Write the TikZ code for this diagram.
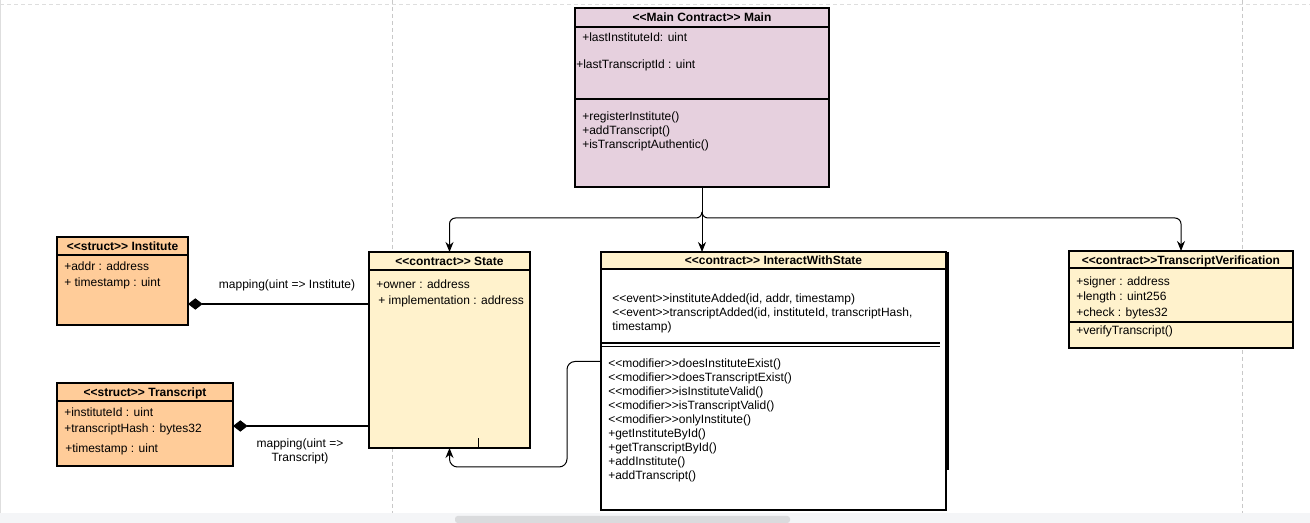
\documentclass[tikz,border=0pt]{standalone}
\usepackage{fontspec}
\setmainfont{Liberation Sans}
\usetikzlibrary{arrows.meta,calc}
\definecolor{mainfill}{HTML}{E6D0DE}
\definecolor{structfill}{HTML}{FFCC99}
\definecolor{contractfill}{HTML}{FFF2CC}
\definecolor{pageline}{HTML}{C8C8C8}
\definecolor{scrolltrack}{HTML}{F4F5F7}
\definecolor{scrollthumb}{HTML}{DADBDD}
\newcommand\upx{0.75pt}
\begin{document}
\begin{tikzpicture}[x=0.75pt,y=-0.75pt,
  font=\fontsize{9}{10.5}\selectfont,
  cls/.style={draw=black, line width=0.9pt, anchor=north west, inner sep=0pt, outer sep=0pt},
  sep/.style={line width=0.9pt},
  ttl/.style={anchor=base, inner sep=0pt, font=\fontsize{9}{10.5}\selectfont\bfseries},
  txt/.style={anchor=base west, inner sep=0pt},
  lbl/.style={inner sep=0pt, align=center},
  conn/.style={line width=0.75pt, -{Stealth[length=7.5pt,width=6pt]}},
  comp/.style={line width=0.8pt, {Diamond[length=11pt,width=8.5pt]}-},
]
\useasboundingbox (0,0) rectangle (1310,523);

% editor canvas: page breaks and scroll bar
\draw[pageline!60, line width=0.6pt] (0.5,0) -- (0.5,513);
\draw[pageline!60, dash pattern=on 3pt off 2.25pt, line width=0.6pt] (0,4) -- (1310,4);
\draw[pageline, dash pattern=on 3pt off 2.25pt, line width=0.6pt] (392,0) -- (392,513);
\draw[pageline, dash pattern=on 3pt off 2.25pt, line width=0.6pt] (1242,0) -- (1242,513);
\fill[scrolltrack] (0,513) rectangle (1310,523);
\fill[scrollthumb, rounded corners=2pt] (455,516) rectangle (790,523);

% Main contract
\node[cls, fill=mainfill, minimum width=254*\upx, minimum height=179*\upx] (main) at (575,8) {};
\node[ttl] (mainT) at (702,22) {<{}<Main Contract>{}> Main};
\draw[sep] (575,27) -- (829,27);
\node[txt] (m1) at (582,42) {+lastInstituteId: uint};
\node[txt] (m2) at (576,69) {+lastTranscriptId : uint};
\draw[sep] (575,99) -- (829,99);
\node[txt] (m3) at (582,121) {+registerInstitute()};
\node[txt] (m4) at (582,135) {+addTranscript()};
\node[txt] (m5) at (582,149) {+isTranscriptAuthentic()};

% Institute struct
\node[cls, fill=structfill, minimum width=131*\upx, minimum height=88*\upx] (inst) at (57,237) {};
\node[ttl] (instT) at (122.5,251) {<{}<struct>{}> Institute};
\draw[sep] (57,255) -- (188,255);
\node[txt] (i1) at (64,271) {+addr : address};
\node[txt] (i2) at (64,287) {+ timestamp : uint};

% Transcript struct
\node[cls, fill=structfill, minimum width=176*\upx, minimum height=83*\upx] (trans) at (57,383) {};
\node[ttl] (transT) at (145,397) {<{}<struct>{}> Transcript};
\draw[sep] (57,401) -- (233,401);
\node[txt] (t1) at (64,417) {+instituteId : uint};
\node[txt] (t2) at (64,433) {+transcriptHash : bytes32};
\node[txt] (t3) at (65,453) {+timestamp : uint};

% State contract
\node[cls, fill=contractfill, minimum width=161*\upx, minimum height=196*\upx] (state) at (369,252) {};
\node[ttl] (stateT) at (449.5,266) {<{}<contract>{}> State};
\draw[sep] (369,270) -- (530,270);
\node[txt] (s1) at (376,289) {+owner : address};
\node[txt] (s2) at (378,305) {+ implementation : address};
\draw[line width=0.75pt] ($(state.south west)+(109,0)$) -- ++(0,-10);

% InteractWithState contract
\node[cls, fill=white, minimum width=345*\upx, minimum height=258*\upx] (iws) at (601,252) {};
\path[fill=contractfill, draw=black, line width=0.9pt] (iws.north west) rectangle ($(iws.north east)+(0,17)$);
\draw[line width=2pt] ($(iws.north east)+(1.5,0)$) -- ($(iws.north east)+(1.5,218)$);
\node[ttl] (iwsT) at (773.5,265) {<{}<contract>{}> InteractWithState};
\node[txt] (e1) at (612,303) {<{}<event>{}>instituteAdded(id, addr, timestamp)};
\node[txt] (e2) at (612,317) {<{}<event>{}>transcriptAdded(id, instituteId, transcriptHash,};
\node[txt] (e3) at (612,331) {timestamp)};
\draw[sep] (601,343) -- (940,343);
\draw[sep] (601,346.5) -- (940,346.5);
\node[txt] (f1) at (608,368) {<{}<modifier>{}>doesInstituteExist()};
\node[txt] (f2) at (608,382) {<{}<modifier>{}>doesTranscriptExist()};
\node[txt] (f3) at (608,396) {<{}<modifier>{}>isInstituteValid()};
\node[txt] (f4) at (608,410) {<{}<modifier>{}>isTranscriptValid()};
\node[txt] (f5) at (608,424) {<{}<modifier>{}>onlyInstitute()};
\node[txt] (f6) at (608,438) {+getInstituteById()};
\node[txt] (f7) at (608,452) {+getTranscriptById()};
\node[txt] (f8) at (608,466) {+addInstitute()};
\node[txt] (f9) at (608,480) {+addTranscript()};

% TranscriptVerification contract
\node[cls, fill=contractfill, minimum width=224*\upx, minimum height=97*\upx] (tv) at (1069,251) {};
\node[ttl] (tvT) at (1181,264.5) {<{}<contract>{}>TranscriptVerification};
\draw[sep] (1069,268) -- (1293,268);
\node[txt] (v1) at (1076,286) {+signer : address};
\node[txt] (v2) at (1076,301) {+length : uint256};
\node[txt] (v3) at (1076,317) {+check : bytes32};
\draw[sep] (1069,322) -- (1293,322);
\node[txt] (v4) at (1076,335) {+verifyTranscript()};

% inheritance from Main: one stem, then the branches
\coordinate (fork) at ($(main.south)+(0,25)$);
\draw[conn] (main.south) -- (main.south |- iws.north);
\draw[conn, rounded corners=4.5pt] (fork) -- ++(0,6) -| (state.north);
\draw[conn, rounded corners=4.5pt] (fork) -- ++(0,6) -| (tv.north);

% InteractWithState uses State
\coordinate (use) at ($(iws.north west)+(0,109.5)$);
\draw[conn, rounded corners=6pt] (use) -| (567,467) -| (state.south);

% mappings held by State
\coordinate (d1) at ($(inst.south east)+(0,-21)$);
\draw[comp] (d1) -- (d1 -| state.west);
\node[lbl] (l1) at (287,285) {mapping(uint => Institute)};
\coordinate (d2) at ($(trans.north east)+(0,43)$);
\draw[comp] (d2) -- (d2 -| state.west);
\node[lbl] (l2) at (300,451) {mapping(uint =>\\Transcript)};
\end{tikzpicture}
\end{document}
